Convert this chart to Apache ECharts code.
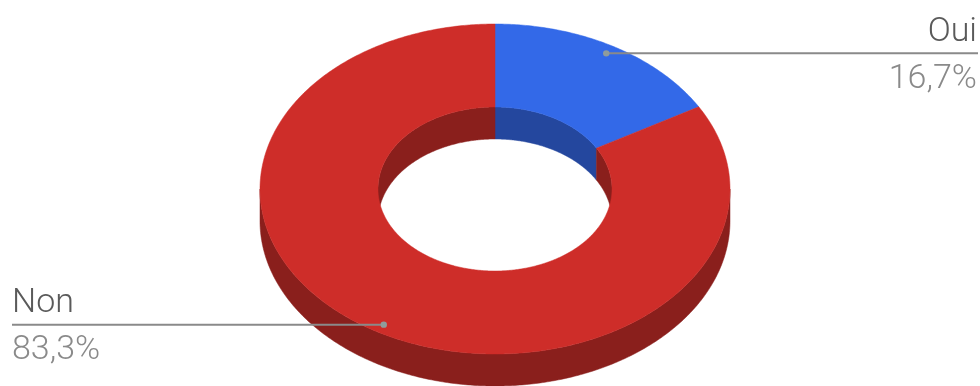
<!DOCTYPE html>
<html><head><meta charset="utf-8">
<style>html,body{margin:0;padding:0;background:#fff}#c{width:980px;height:386px}</style>
<script src="https://cdn.jsdelivr.net/npm/echarts@6/dist/echarts.min.js"></script>
</head><body><div id="c"></div>
<script>
const categories = ['Oui', 'Non'];
const values = [16.7, 83.3];
const percentLabels = ['16,7%', '83,3%'];
const faceColors = ['#3369E8', '#CE2D29'];
const wallColors = ['#24479E', '#8A1F1C'];

const cx = 495, cy = 189, rx = 235, ry = 165, irx = 117, iry = 82, depth = 32;
const total = values.reduce((a, b) => a + b, 0);
const tau = Math.PI * 2;
const pt = (a, px, py, dy) => [cx + px * Math.sin(a), cy - py * Math.cos(a) + (dy || 0)];
function arc(a0, a1, px, py, dy) {
  const n = Math.max(2, Math.ceil(Math.abs(a1 - a0) / 0.01)), out = [];
  for (let i = 0; i <= n; i++) out.push(pt(a0 + (a1 - a0) * i / n, px, py, dy));
  return out;
}
function angles(idx) {
  let s = 0;
  for (let i = 0; i < idx; i++) s += values[i];
  return [s / total * tau, (s + values[idx]) / total * tau];
}
function overlap(a0, a1, b0, b1) {
  const s = Math.max(a0, b0), e = Math.min(a1, b1);
  return e > s ? [s, e] : null;
}
function wallItem(params, api) {
  const [a0, a1] = angles(params.dataIndex);
  const children = [];
  const fill = wallColors[params.dataIndex];
  const add = (pts) => children.push({type: 'polygon', shape: {points: pts}, style: {fill, stroke: fill, lineWidth: 0.5}});
  // outer wall: front half only
  const f = overlap(a0, a1, Math.PI / 2, Math.PI * 1.5);
  if (f) add(arc(f[0], f[1], rx, ry, 0).concat(arc(f[1], f[0], rx, ry, depth)));
  // inner wall: back half only
  [[-Math.PI / 2, Math.PI / 2], [Math.PI * 1.5, Math.PI * 2.5]].forEach(([b0, b1]) => {
    const o = overlap(a0, a1, b0, b1);
    if (o) add(arc(o[0], o[1], irx, iry, 0).concat(arc(o[1], o[0], irx, iry, depth)));
  });
  return {type: 'group', children};
}
function faceItem(params, api) {
  const [a0, a1] = angles(params.dataIndex);
  const fill = faceColors[params.dataIndex];
  return {type: 'polygon', shape: {points: arc(a0, a1, rx, ry).concat(arc(a1, a0, irx, iry))},
          style: {fill, stroke: fill, lineWidth: 0.5}};
}
function labelItem(params, api) {
  const i = params.dataIndex;
  const [a0, a1] = angles(i);
  const mid = (a0 + a1) / 2;
  const [dx, dy] = pt(mid, rx * 0.945, ry * 0.95);
  const right = dx > cx;
  const edge = right ? 978 : 12;
  const align = right ? 'right' : 'left';
  const textX = right ? 977 : 12;
  return {type: 'group', children: [
    {type: 'line', shape: {x1: dx, y1: dy, x2: edge, y2: dy}, style: {stroke: '#8a8a8a', lineWidth: 2}},
    {type: 'circle', shape: {cx: dx, cy: dy, r: 3.2}, style: {fill: '#8f9c9c'}},
    {type: 'text', x: textX, y: dy - 4, style: {text: categories[i], font: '300 34px Roboto', fill: '#5a5a5a', align, verticalAlign: 'bottom'}},
    {type: 'text', x: textX, y: dy + 9, style: {text: percentLabels[i], font: '300 34px Roboto', fill: '#8a8a8a', align, verticalAlign: 'top'}}
  ]};
}
const data = values.map((v, i) => ({name: categories[i], value: v}));
const common = {type: 'custom', coordinateSystem: 'none', data, silent: true, animation: false};
const chart = echarts.init(document.getElementById('c'), null, {renderer: 'canvas'});
chart.setOption({
  backgroundColor: '#ffffff',
  animation: false,
  series: [
    Object.assign({}, common, {z: 1, renderItem: wallItem}),
    Object.assign({}, common, {z: 2, renderItem: faceItem}),
    Object.assign({}, common, {z: 3, renderItem: labelItem})
  ]
});
</script></body></html>
